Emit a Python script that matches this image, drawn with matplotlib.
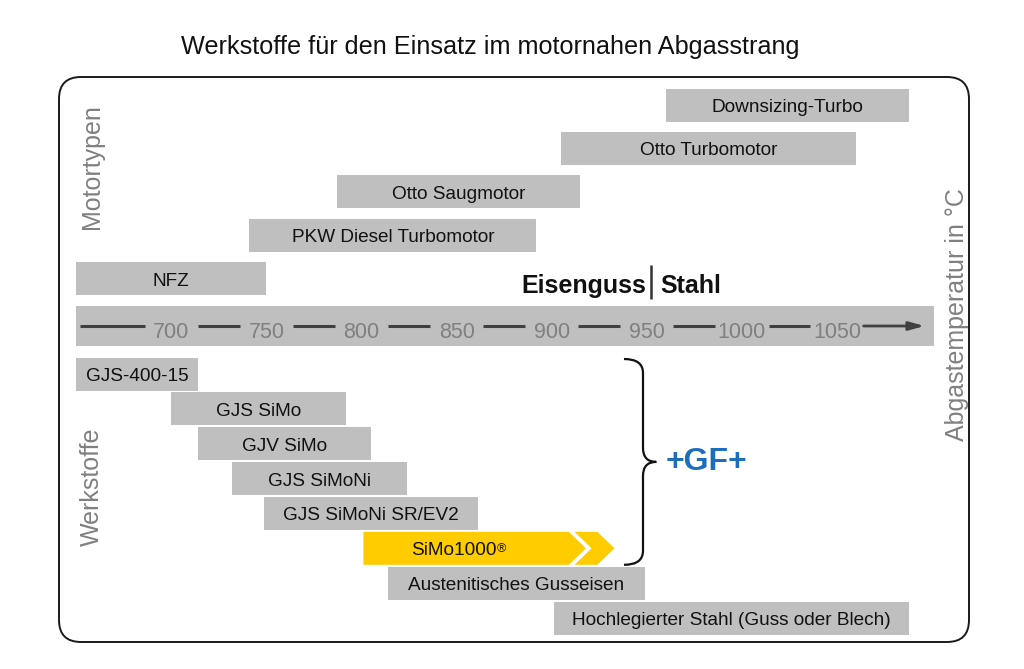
"""Werkstoffe fuer den Einsatz im motornahen Abgasstrang - range chart."""

import matplotlib

matplotlib.use("Agg")

import matplotlib.pyplot as plt
import numpy as np
from matplotlib.patches import FancyBboxPatch, PathPatch, Polygon
from matplotlib.path import Path

plt.rcParams["font.family"] = ["Liberation Sans", "DejaVu Sans"]

# temperature ranges (degC)
motor_labels = [
    "Downsizing-Turbo",
    "Otto Turbomotor",
    "Otto Saugmotor",
    "PKW Diesel Turbomotor",
    "NFZ",
]
motor_start = [960, 905, 787, 741, 650]
motor_end = [1088, 1060, 915, 892, 750]

material_labels = [
    "GJS-400-15",
    "GJS SiMo",
    "GJV SiMo",
    "GJS SiMoNi",
    "GJS SiMoNi SR/EV2",
    "SiMo1000",
    "Austenitisches Gusseisen",
    "Hochlegierter Stahl (Guss oder Blech)",
]
material_start = [650, 700, 714, 732, 749, 801, 814, 901]
material_end = [714, 792, 805, 824, 861, 918, 949, 1088]

temp_ticks = [700, 750, 800, 850, 900, 950, 1000, 1050]
scale_min, scale_max = 650, 1101
iron_steel_limit = 952

BAR_GREY = "#bfbfbf"
GF_YELLOW = "#ffcc00"
GF_BLUE = "#1c6ebd"
LABEL_GREY = "#808080"
DASH_GREY = "#404040"
TEXT = "#111111"

# layout (pixels, figure is 1024 x 669)
PX_PER_DEG = 1.902
X700_PX = 171.3
MOTOR_TOP, MOTOR_PITCH = 105.0, 43.4
MAT_TOP, MAT_PITCH = 374.0, 34.86
BAR_H = 33
SCALE_Y, SCALE_H = 326.0, 40
LABEL_DY = 2.5  # bar labels sit a touch below the bar centre
LABEL_FS = 13.7


def brace_path(x_end, x_spine, x_tip, y_top, y_bot, r):
    y_mid = (y_top + y_bot) / 2
    verts = [
        (x_end, y_top),
        (x_spine, y_top), (x_spine, y_top + r),
        (x_spine, y_mid - r),
        (x_spine, y_mid), (x_tip, y_mid),
        (x_spine, y_mid), (x_spine, y_mid + r),
        (x_spine, y_bot - r),
        (x_spine, y_bot), (x_end, y_bot),
    ]
    codes = [
        Path.MOVETO,
        Path.CURVE3, Path.CURVE3,
        Path.LINETO,
        Path.CURVE3, Path.CURVE3,
        Path.CURVE3, Path.CURVE3,
        Path.LINETO,
        Path.CURVE3, Path.CURVE3,
    ]
    return Path(verts, codes)


def main():
    fig = plt.figure(figsize=(10.24, 6.69), dpi=100)

    # background layer in pixel units: frame, title, side labels
    bg = fig.add_axes([0, 0, 1, 1], label="bg")
    bg.set_xlim(0, 1024)
    bg.set_ylim(669, 0)
    bg.axis("off")

    frame = FancyBboxPatch(
        (59, 77), 910, 565,
        boxstyle="round,pad=0,rounding_size=22",
        facecolor="white", edgecolor="#1a1a1a", linewidth=1.4,
    )
    bg.add_patch(frame)
    bg.text(490, 54, "Werkstoffe für den Einsatz im motornahen Abgasstrang",
            ha="center", va="baseline", fontsize=18.2, color=TEXT)
    bg.text(92, 167, "Motortypen", rotation=90, ha="center", va="center",
            fontsize=18, color=LABEL_GREY)
    bg.text(92, 487, "Werkstoffe", rotation=90, ha="center", va="center",
            fontsize=18, color=LABEL_GREY)
    bg.text(957, 315, "Abgastemperatur in °C", rotation=90, ha="center",
            va="center", fontsize=18, color=LABEL_GREY)

    # data layer: x in degC
    ax = fig.add_axes([0, 0, 1, 1], label="data")
    ax.patch.set_alpha(0)
    ax.set_xlim(700 - X700_PX / PX_PER_DEG, 700 + (1024 - X700_PX) / PX_PER_DEG)
    ax.set_ylim(669, 0)
    ax.axis("off")

    # engine types
    motor_y = MOTOR_TOP + MOTOR_PITCH * np.arange(len(motor_labels))
    ax.barh(motor_y, np.subtract(motor_end, motor_start), left=motor_start,
            height=BAR_H, color=BAR_GREY)
    for lab, s, e, y in zip(motor_labels, motor_start, motor_end, motor_y):
        ax.text((s + e) / 2, y + LABEL_DY, lab, ha="center", va="center",
                fontsize=LABEL_FS, color=TEXT)

    # Eisenguss | Stahl
    ax.plot([iron_steel_limit, iron_steel_limit], [265, 299], color="#333333",
            linewidth=1.8, solid_capstyle="butt")
    ax.text(iron_steel_limit - 2.5, 293, "Eisenguss", ha="right",
            va="baseline", fontsize=18, fontweight="bold", color=TEXT)
    ax.text(iron_steel_limit + 5, 293, "Stahl", ha="left", va="baseline",
            fontsize=18, fontweight="bold", color=TEXT)

    # temperature scale bar
    ax.barh([SCALE_Y], [scale_max - scale_min], left=scale_min, height=SCALE_H,
            color=BAR_GREY)
    for t in temp_ticks:
        ax.text(t, SCALE_Y + 12, str(t), ha="center", va="baseline",
                fontsize=15.5, color=LABEL_GREY)
    stops = [scale_min + 2] + temp_ticks + [scale_max - 5]
    gap = 14
    for i in range(len(stops) - 1):
        a = stops[i] + (gap if i > 0 else 0)
        b = stops[i + 1] - (gap if i + 1 < len(stops) - 1 else 0)
        if i + 1 == len(stops) - 1:
            ax.annotate("", xy=(b, SCALE_Y), xytext=(a, SCALE_Y),
                        arrowprops=dict(arrowstyle="-|>,head_length=0.9,head_width=0.25",
                                        color=DASH_GREY, lw=2.0,
                                        shrinkA=0, shrinkB=0))
        else:
            ax.plot([a, b], [SCALE_Y, SCALE_Y], color=DASH_GREY, linewidth=2.2,
                    solid_capstyle="butt")

    # materials
    mat_y = MAT_TOP + MAT_PITCH * np.arange(len(material_labels))
    simo = material_labels.index("SiMo1000")
    for i, (lab, s, e, y) in enumerate(zip(material_labels, material_start,
                                            material_end, mat_y)):
        top, bot = y - BAR_H / 2, y + BAR_H / 2
        if i == simo:
            d = 9  # arrow tip depth in degC
            body = Polygon([(s, top), (e - d, top), (e, y), (e - d, bot), (s, bot)],
                           closed=True, facecolor=GF_YELLOW, edgecolor="none")
            ax.add_patch(body)
            c0 = e - d + 3
            w = 12
            chevron = Polygon([(c0, top), (c0 + w, top), (c0 + w + d, y),
                               (c0 + w, bot), (c0, bot), (c0 + d, y)],
                              closed=True, facecolor=GF_YELLOW, edgecolor="none")
            ax.add_patch(chevron)
            txt = ax.text((s + e) / 2 - 11, y + LABEL_DY, lab, ha="center",
                          va="center", fontsize=LABEL_FS, color=TEXT)
            ax.annotate("®", xy=(1, 0.95), xycoords=txt, ha="left", va="top",
                        fontsize=9, color=TEXT)
        else:
            ax.barh([y], [e - s], left=s, height=BAR_H, color=BAR_GREY)
            ax.text((s + e) / 2, y + LABEL_DY, lab, ha="center", va="center",
                    fontsize=LABEL_FS, color=TEXT)

    # brace spanning the GF materials
    gf_top = mat_y[0] - BAR_H / 2 + 1.5
    gf_bot = mat_y[simo] + BAR_H / 2
    brace = PathPatch(brace_path(938, 948, 955, gf_top, gf_bot, 14),
                      facecolor="none", edgecolor="#111111", linewidth=1.6)
    ax.add_patch(brace)
    ax.text(960, (gf_top + gf_bot) / 2, "+GF+", ha="left", va="center",
            fontsize=23, fontweight="bold", color=GF_BLUE)

    fig.savefig("out.png", dpi=100)
    plt.close(fig)


if __name__ == "__main__":
    main()
